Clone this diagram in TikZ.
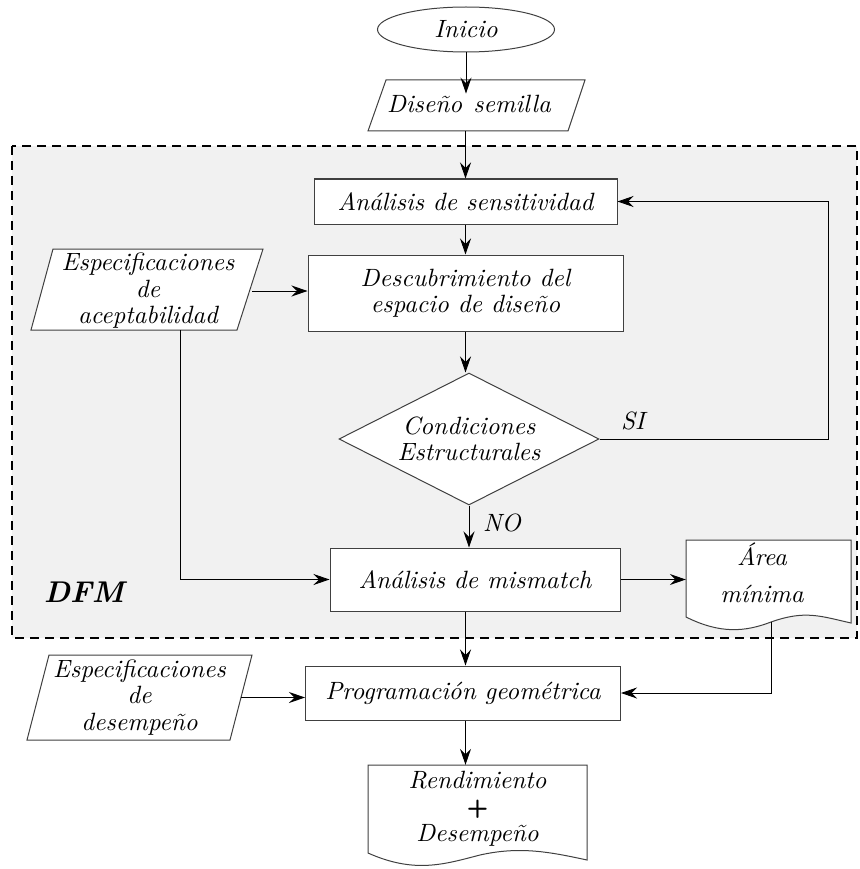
\documentclass[tikz,border=0pt]{standalone}
\usepackage{fontspec}
\setmainfont{lmroman10-regular.otf}[ItalicFont=lmroman10-italic.otf, BoldFont=lmroman10-bold.otf, BoldItalicFont=lmroman10-bolditalic.otf]
\usetikzlibrary{shapes.geometric,arrows.meta}
\begin{document}
\begin{tikzpicture}[x=1pt,y=-1pt,
  txt/.style={font=\fontsize{25}{26.5}\selectfont\itshape, align=center, inner sep=0pt},
  box/.style={txt, draw=black!75, fill=white, line width=1pt},
  shp/.style={draw=black!75, fill=white, line width=1pt},
  arr/.style={-{Stealth[length=16pt,width=11pt,inset=5.5pt]}, line width=0.9pt},
  ln/.style={line width=0.9pt}]
\useasboundingbox (0,0) rectangle (859,869);
% DFM region
\draw[line width=1.8pt, dash pattern=on 9pt off 6pt, fill={rgb,255:red,241;green,241;blue,241}]
  (12,146) rectangle (857,638);
% shapes drawn as paths
\draw[shp] (386,80) -- (585,80) -- (568,131) -- (368,131) -- cycle;
\draw[shp] (53,249) -- (263,249) -- (237,330) -- (31,330) -- cycle;
\draw[shp] (49,655) -- (252,655) -- (230,740) -- (27,740) -- cycle;
\draw[shp] (686,540) -- (851,540) -- (851,623)
  .. controls (820,616) and (805,610) .. (771,622)
  .. controls (745,632) and (720,634) .. (686,617) -- cycle;
\draw[shp] (368,765) -- (587,765) -- (587,860)
  .. controls (550,852) and (520,846) .. (480,855)
  .. controls (445,864) and (415,874) .. (368,853) -- cycle;
% nodes
\node[box, ellipse, minimum width=177pt, minimum height=45pt] (inicio) at (466,29.5) {Inicio};
\node[txt] (diseno) at (469,107) {\strut Diseño\hspace{0.45em}semilla};
\path (466,131) coordinate (disenob);
\node[box, minimum width=303pt, minimum height=45pt] (sens) at (465.5,201.5) {Análisis de sensitividad};
\node[box, minimum width=315pt, minimum height=76pt] (desc) at (465.5,293) {Descubrimiento del\\espacio de diseño};
\node[txt, minimum width=208pt, minimum height=81pt] (acept) at (148,291) {Especificaciones\\de\\aceptabilidad};
\node[box, diamond, aspect=2, minimum width=260pt, minimum height=132pt] (cond) at (469,439) {Condiciones\\Estructurales};
\node[box, minimum width=290pt, minimum height=63pt] (mis) at (475,579.5) {Análisis de mismatch};
\node[minimum width=165pt, minimum height=77pt, inner sep=0pt] (area) at (768.5,578.5) {};
\node[txt] (areatxt) at (762,573) {Área\\[11pt]mínima};
\node[box, minimum width=315pt, minimum height=54pt] (prog) at (463,693) {Programación geométrica};
\node[txt, minimum width=203pt, minimum height=85pt] (desemp) at (139.5,697.5) {Especificaciones\\de\\desempeño};
\node[txt, minimum width=219pt, minimum height=88pt] (rend) at (477.5,809) {Rendimiento\\{\upshape\sffamily\bfseries +}\\Desempeño};
\node[txt, font=\fontsize{30}{30}\selectfont\bfseries\itshape] (dfm) at (84,592) {DFM};
\node[txt] (si) at (633,421) {SI};
\node[txt] (no) at (502,523) {NO};
\coordinate (loop) at (828,300);
\coordinate (aceptout) at (180,330);
\coordinate (areaout) at (771,622);
% connectors
\draw[arr] (inicio.south) -- (inicio.south |- diseno.north);
\draw[arr] (sens.north |- disenob) -- (sens.north);
\draw[arr] (sens.south) -- (desc.north);
\draw[arr] (desc.south) -- (desc.south |- cond.north);
\draw[arr] (cond.east) -| (loop) |- (sens.east);
\draw[arr] (acept.east) -- (acept.east -| desc.west);
\draw[arr] (cond.south) -- (cond.south |- mis.north);
\draw[arr] (aceptout) |- (mis.west);
\draw[arr] (mis.east) -- (mis.east -| area.west);
\draw[arr] (mis.south -| sens.south) -- (prog.north -| sens.south);
\draw[arr] (areaout) |- (prog.east);
\draw[arr] (desemp.east) -- (desemp.east -| prog.west);
\draw[arr] (prog.south -| sens.south) -- (rend.north -| sens.south);
\end{tikzpicture}
\end{document}
